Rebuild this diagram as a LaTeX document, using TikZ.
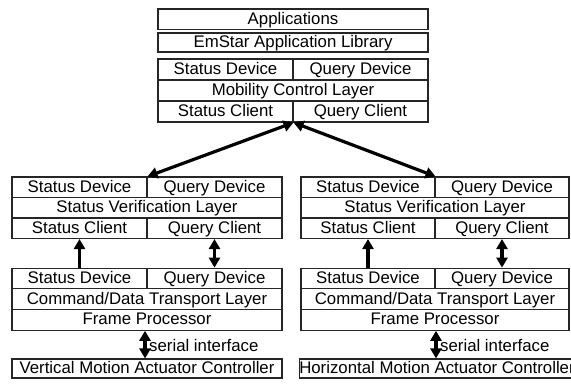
\documentclass[tikz,border=0pt]{standalone}
\usepackage{fontspec}
\setmainfont{Liberation Sans}
\usetikzlibrary{arrows.meta}
\begin{document}
\begin{tikzpicture}[x=1pt,y=-1pt,
  font=\fontsize{16.8}{18}\selectfont,
  cell/.style={draw=black!85, line width=1.1pt, inner sep=0pt, anchor=center, text height=13pt, text depth=3pt},
  half/.style={cell, minimum width=135pt},
  halfr/.style={cell, minimum width=134pt},
  full/.style={cell, minimum width=270pt},
  fullr/.style={cell, minimum width=268pt},
  tip/.tip={Triangle[length=10pt,width=11pt]},
  link/.style={line width=3.2pt, {tip}-{tip}},
  uplink/.style={line width=3.2pt, -{tip}}
]
\useasboundingbox (0,0) rectangle (571,384);
\clip (0,0) rectangle (571,384);
% top stack
\node[full, minimum height=20.5pt] (app) at (293,19.25) {Applications};
\node[full, minimum height=19pt] (lib) at (293,42.5) {EmStar Application Library};
\node[half, minimum height=21pt] (tsd) at (225.5,69.5) {Status Device};
\node[half, minimum height=21pt] (tqd) at (360.5,69.5) {Query Device};
\node[full, minimum height=21pt] (tml) at (293,90.5) {Mobility Control Layer};
\node[half, minimum height=21pt] (tsc) at (225.5,111.5) {Status Client};
\node[half, minimum height=21pt] (tqc) at (360.5,111.5) {Query Client};
% left middle stack
\node[half, minimum height=20.5pt] (lsd) at (79.5,187.25) {Status Device};
\node[half, minimum height=20.5pt] (lqd) at (214.5,187.25) {Query Device};
\node[full, minimum height=20.5pt] (lvl) at (147,207.75) {Status Verification Layer};
\node[half, minimum height=20.5pt] (lsc) at (79.5,228.25) {Status Client};
\node[half, minimum height=20.5pt] (lqc) at (214.5,228.25) {Query Client};
% left lower stack
\node[half, minimum height=20.7pt] (lsd2) at (79.5,278.5) {Status Device};
\node[half, minimum height=20.7pt] (lqd2) at (214.5,278.5) {Query Device};
\node[full, minimum height=20.7pt] (ltl) at (147,299.2) {Command/Data Transport Layer};
\node[full, minimum height=20.7pt] (lfp) at (147,319.9) {Frame Processor};
\node[full, minimum height=19pt] (lvc) at (147,368.5) {Vertical Motion Actuator Controller};
% right middle stack
\node[halfr, minimum height=20.5pt] (rsd) at (368,187.25) {Status Device};
\node[halfr, minimum height=20.5pt] (rqd) at (502,187.25) {Query Device};
\node[fullr, minimum height=20.5pt] (rvl) at (435,207.75) {Status Verification Layer};
\node[halfr, minimum height=20.5pt] (rsc) at (368,228.25) {Status Client};
\node[halfr, minimum height=20.5pt] (rqc) at (502,228.25) {Query Client};
% right lower stack
\node[halfr, minimum height=20.7pt] (rsd2) at (368,278.5) {Status Device};
\node[halfr, minimum height=20.7pt] (rqd2) at (502,278.5) {Query Device};
\node[fullr, minimum height=20.7pt] (rtl) at (435,299.2) {Command/Data Transport Layer};
\node[fullr, minimum height=20.7pt] (rfp) at (435,319.9) {Frame Processor};
\node[full, minimum height=19pt] (rhc) at (437,368.5) {Horizontal Motion Actuator Controller};
% connectors
\draw[link] (tsc.south east) -- (lsd.north east);
\draw[link] (tsc.south east) -- (rsd.north east);
\draw[uplink] (lsd2.north) -- (lsc.south);
\draw[link] (lqd2.north) -- (lqc.south);
\draw[uplink] (rsd2.north) -- (rsc.south);
\draw[link] (rqd2.north) -- (rqc.south);
\draw[link] ([xshift=-2pt]lfp.south) -- ([xshift=-2pt]lvc.north);
\draw[link] ([xshift=1pt]rfp.south) -- ([xshift=1pt]rfp.south |- rhc.north);
\node[anchor=west, inner sep=0pt] (lsi) at (149,345) {serial interface};
\node[anchor=west, inner sep=0pt] (rsi) at (440,345) {serial interface};
\end{tikzpicture}
\end{document}
